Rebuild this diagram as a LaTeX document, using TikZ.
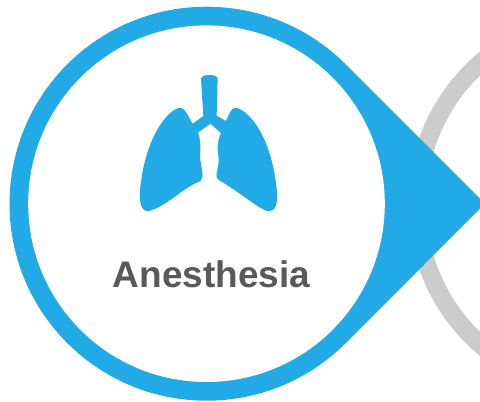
\documentclass[tikz,border=0pt]{standalone}
\usepackage{fontspec}
\setmainfont{Liberation Sans}
\definecolor{pinblue}{HTML}{22AAE6}
\definecolor{ringgrey}{HTML}{CCCCCC}
\definecolor{labelgrey}{HTML}{595959}
\begin{document}
\begin{tikzpicture}[x=1pt,y=-1pt]
\useasboundingbox (0,0) rectangle (480,402);
\clip (0,0) rectangle (480,402);
% grey ring
\draw[ringgrey,line width=18pt] (605,203.7) circle (188);
% blue pin
\fill[pinblue] (345.8,64.4) -- (485,203.7) -- (345.8,343)
  arc[start angle=45,end angle=315,radius=197,y=1pt] -- cycle;
\fill[white] (206.5,203.7) circle (178.3);
% lungs
\begin{scope}[shift={(120,60)},x=0.3333pt,y=-0.3333pt]
\fill[pinblue] (243,56) .. controls (245,41) and (291,41) .. (293,56)
 -- (290,167) -- (318,183)
 .. controls (328,160) and (335,143) .. (347,143)
 .. controls (385,150) and (455,225) .. (471,395)
 .. controls (474,435) and (465,455) .. (445,454)
 .. controls (420,450) and (350,390) .. (296,360)
 .. controls (288,352) and (288,345) .. (291,335)
 .. controls (297,310) and (297,300) .. (294,280)
 .. controls (290,255) and (296,235) .. (303,219)
 -- (271,191) -- (234,218)
 .. controls (242,240) and (242,260) .. (240,285)
 .. controls (240,310) and (250,335) .. (247,352)
 .. controls (245,362) and (240,365) .. (230,368)
 .. controls (190,385) and (130,445) .. (85,453)
 .. controls (62,455) and (58,425) .. (60,390)
 .. controls (75,235) and (140,150) .. (180,143)
 .. controls (195,143) and (205,170) .. (218,191)
 -- (250,168) -- cycle;
\end{scope}
\node[text=labelgrey,font=\fontsize{37}{37}\selectfont\bfseries,anchor=base] (label) at (211.5,287) {Anesthesia};
\end{tikzpicture}
\end{document}
